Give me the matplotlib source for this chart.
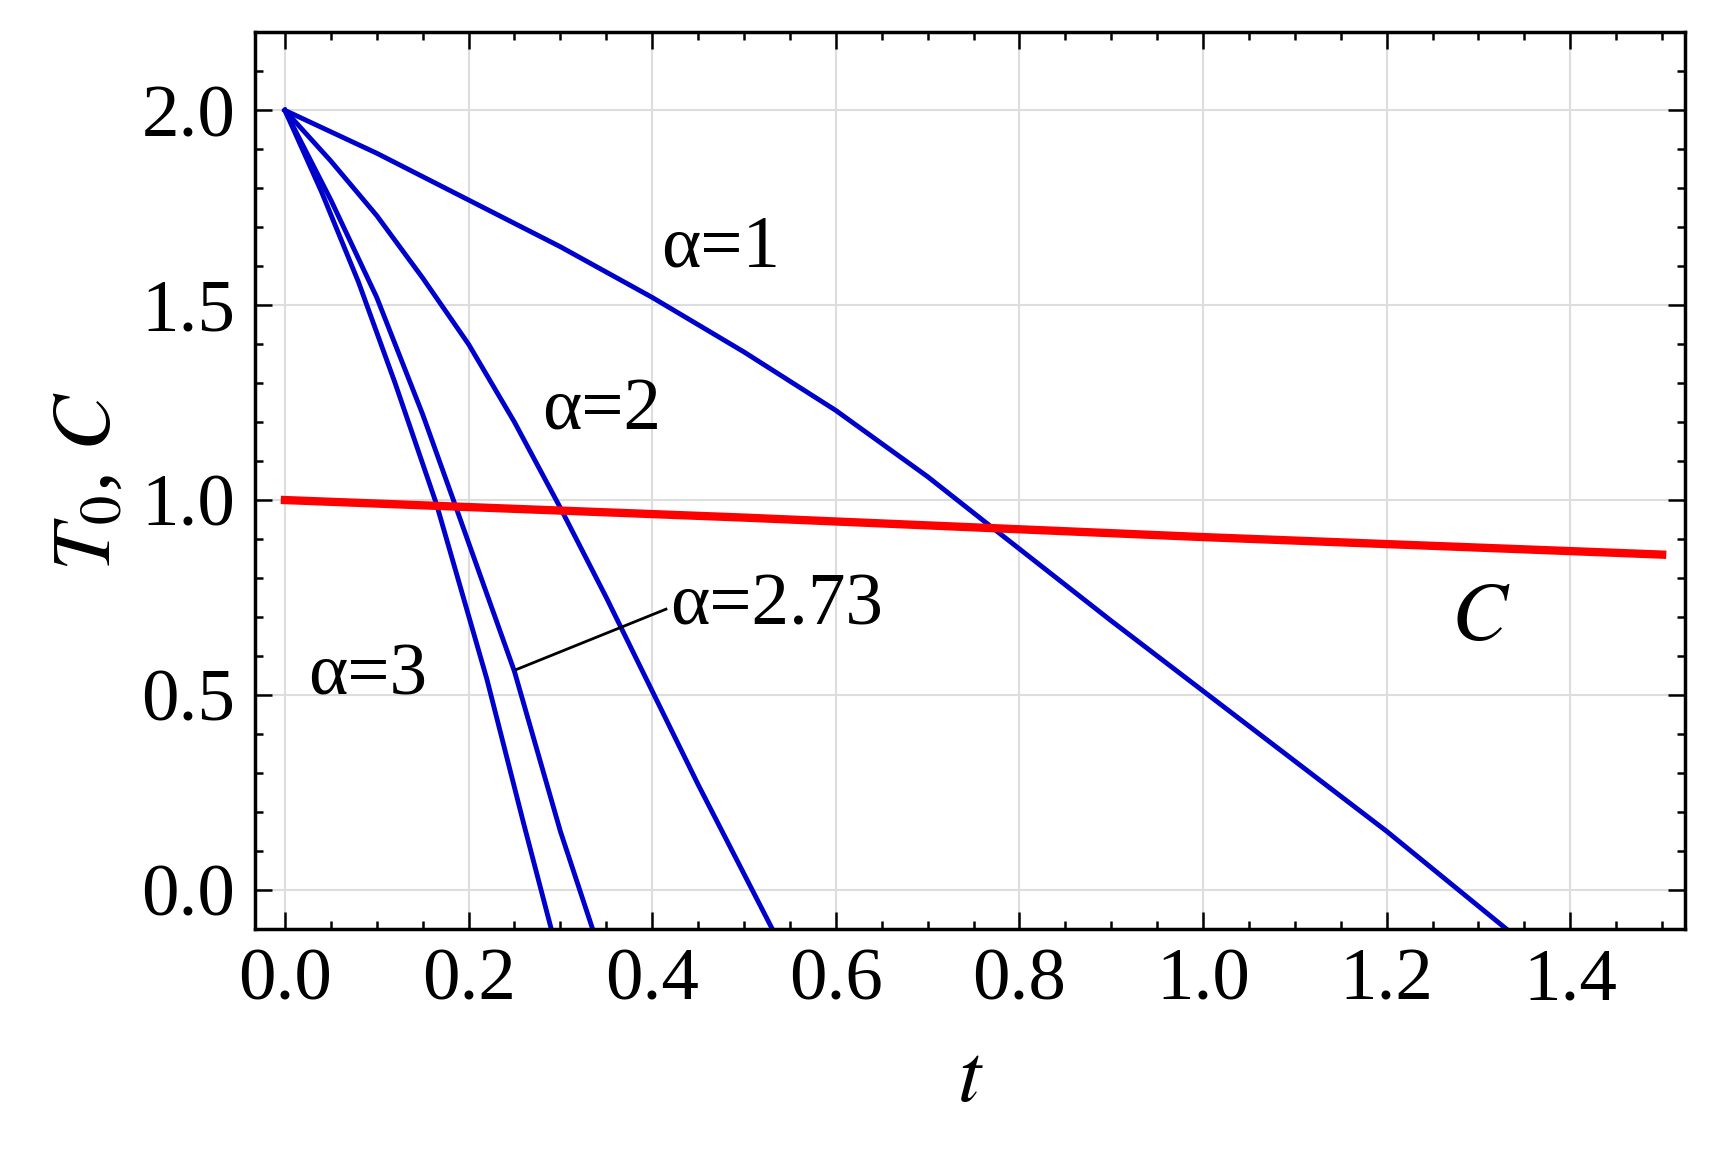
import matplotlib.pyplot as plt
from matplotlib.ticker import MultipleLocator

plt.rcParams['font.family'] = ['Liberation Serif', 'DejaVu Serif']
plt.rcParams['mathtext.fontset'] = 'stix'

# curves
t_a1 = [0.0, 0.1, 0.2, 0.3, 0.4, 0.5, 0.6, 0.7, 0.77, 0.9, 1.0, 1.1, 1.2, 1.33]
T_a1 = [2.0, 1.89, 1.77, 1.65, 1.52, 1.38, 1.23, 1.06, 0.93, 0.69, 0.51, 0.33, 0.15, -0.1]
t_a2 = [0.0, 0.05, 0.1, 0.15, 0.2, 0.25, 0.3, 0.35, 0.4, 0.45, 0.535]
T_a2 = [2.0, 1.87, 1.73, 1.57, 1.4, 1.2, 0.98, 0.75, 0.51, 0.27, -0.12]
t_a273 = [0.0, 0.05, 0.1, 0.15, 0.185, 0.25, 0.3, 0.335]
T_a273 = [2.0, 1.77, 1.52, 1.22, 0.99, 0.56, 0.15, -0.1]
t_a3 = [0.0, 0.04, 0.08, 0.12, 0.165, 0.22, 0.26, 0.29]
T_a3 = [2.0, 1.79, 1.56, 1.3, 0.99, 0.54, 0.17, -0.1]
t_c = [0.0, 0.5, 1.0, 1.5]
C_vals = [1.0, 0.955, 0.905, 0.86]

fig = plt.figure(figsize=(17.09, 11.58), dpi=100)
ax = fig.add_axes([0.149, 0.198, 0.837, 0.774])

blue = '#0000cc'
for t, T in [(t_a1, T_a1), (t_a2, T_a2), (t_a273, T_a273), (t_a3, T_a3)]:
    ax.plot(t, T, color=blue, lw=3.5)
ax.plot(t_c, C_vals, color='#ff0000', lw=6)

fs = 54
ax.text(0.41, 1.6, 'α=1', fontsize=fs)
ax.text(0.28, 1.18, 'α=2', fontsize=fs)
ax.text(0.42, 0.68, 'α=2.73', fontsize=fs)
ax.text(0.025, 0.5, 'α=3', fontsize=fs)
ax.text(1.27, 0.64, '$C$', fontsize=fs + 6)
ax.plot([0.415, 0.252], [0.72, 0.565], color='black', lw=2)

ax.set_xlim(-0.033, 1.525)
ax.set_ylim(-0.1, 2.2)
ax.xaxis.set_major_locator(MultipleLocator(0.2))
ax.xaxis.set_minor_locator(MultipleLocator(0.05))
ax.yaxis.set_major_locator(MultipleLocator(0.5))
ax.yaxis.set_minor_locator(MultipleLocator(0.1))
ax.xaxis.set_major_formatter(lambda v, p: f'{v:.1f}')
ax.yaxis.set_major_formatter(lambda v, p: f'{v:.1f}')
ax.tick_params(which='both', direction='in', top=True, right=True, labelsize=fs, width=1.8)
ax.tick_params(which='major', length=12, pad=14)
ax.tick_params(which='minor', length=6)
ax.grid(True, which='major', color='#dddddd', lw=1.5)
for s in ax.spines.values():
    s.set_linewidth(2.5)

ax.set_xlabel('$t$', fontsize=fs + 6, labelpad=20)
ax.set_ylabel('$T_0$, $C$', fontsize=fs + 6, labelpad=10)

fig.savefig('out.png', dpi=100)
